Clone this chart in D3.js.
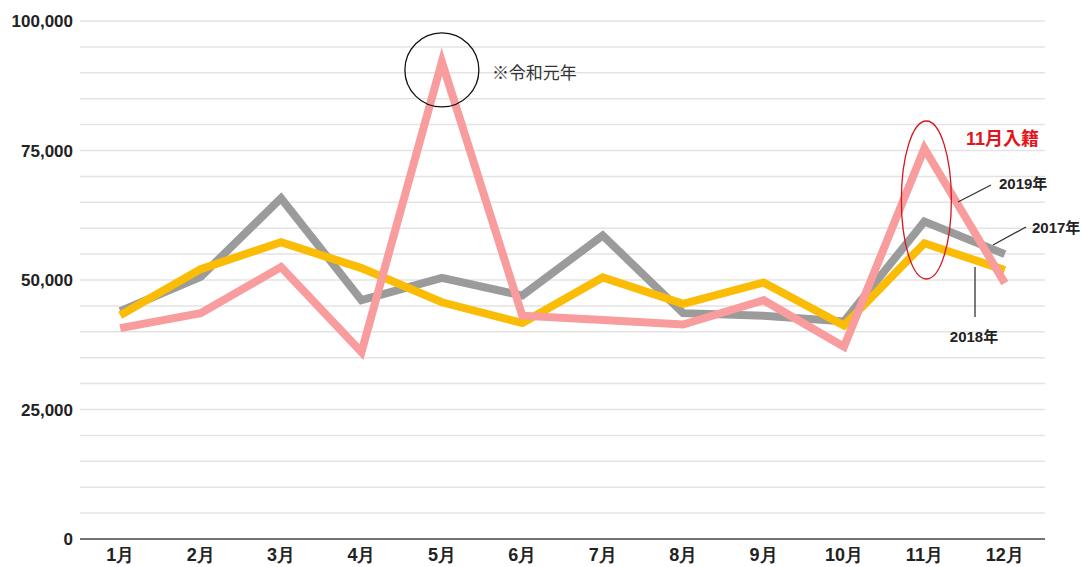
<!DOCTYPE html>
<html>
<head>
<meta charset="utf-8">
<script src="https://cdn.jsdelivr.net/npm/d3@7"></script>
<style>
  body { margin: 0; background: #fff; }
  svg { display: block; font-family: "Liberation Sans", Arial, "Noto Sans CJK JP", sans-serif; }
  .grid line { stroke: #e3e3e3; stroke-width: 1.5; }
  .axis text { font-weight: bold; fill: #222; }
</style>
</head>
<body>
<script>
// monthly values
var months = ["1月", "2月", "3月", "4月", "5月", "6月", "7月", "8月", "9月", "10月", "11月", "12月"];
var y2017 = [44000, 50600, 65800, 46100, 50400, 47000, 58600, 43600, 43100, 42000, 61300, 55000];
var y2018 = [43200, 52100, 57300, 52300, 45700, 41700, 50500, 45400, 49500, 41200, 57100, 51900];
var y2019 = [40700, 43600, 52500, 36100, 92100, 43100, 42300, 41400, 46100, 37100, 75400, 49400];
var yTicks = [0, 25000, 50000, 75000, 100000];

var series = [
  {name: "2017年", values: y2017, color: "#9b9b9b"},
  {name: "2018年", values: y2018, color: "#fbbc05"},
  {name: "2019年", values: y2019, color: "#f89c9e"}
];

var W = 1081, H = 567;
var margin = {top: 21, right: 36, bottom: 28, left: 80};

var svg = d3.select("body").append("svg")
    .attr("width", W)
    .attr("height", H);

var x = d3.scaleBand()
    .domain(months)
    .range([margin.left, W - margin.right]);

var y = d3.scaleLinear()
    .domain([0, 100000])
    .range([H - margin.bottom, margin.top]);

// minor gridlines every 5,000
svg.append("g")
    .attr("class", "grid")
    .selectAll("line")
    .data(d3.range(5000, 100001, 5000))
    .join("line")
    .attr("x1", margin.left)
    .attr("x2", W - margin.right)
    .attr("y1", function(d) { return y(d); })
    .attr("y2", function(d) { return y(d); });

// baseline
svg.append("line")
    .attr("x1", margin.left)
    .attr("x2", W - margin.right)
    .attr("y1", y(0))
    .attr("y2", y(0))
    .attr("stroke", "#444")
    .attr("stroke-width", 1.3);

// y axis
var yAxis = svg.append("g")
    .attr("class", "axis")
    .attr("transform", "translate(" + (margin.left - 4) + ",0)")
    .call(d3.axisLeft(y).tickValues(yTicks).tickSize(0).tickFormat(d3.format(",")));
yAxis.select(".domain").remove();
yAxis.selectAll("text").attr("font-size", 17).attr("dy", "0.35em");

// x axis
var xAxis = svg.append("g")
    .attr("class", "axis")
    .attr("transform", "translate(0," + y(0) + ")")
    .call(d3.axisBottom(x).tickSize(0));
xAxis.select(".domain").remove();
xAxis.selectAll("text").attr("font-size", 18).attr("dy", "1.05em");

// lines
var line = d3.line()
    .x(function(d, i) { return x(months[i]) + x.bandwidth() / 2; })
    .y(function(d) { return y(d); });

svg.append("g")
    .selectAll("path")
    .data(series)
    .join("path")
    .attr("fill", "none")
    .attr("stroke", function(d) { return d.color; })
    .attr("stroke-width", 8)
    .attr("stroke-linejoin", "miter")
    .attr("d", function(d) { return line(d.values); });

function px(m) { return x(m) + x.bandwidth() / 2; }

// 令和元年 note on the May peak
svg.append("circle")
    .attr("cx", px("5月"))
    .attr("cy", y(y2019[4]) + 8)
    .attr("r", 37)
    .attr("fill", "none")
    .attr("stroke", "#111")
    .attr("stroke-width", 1.3);

svg.append("text")
    .attr("x", px("5月") + 50)
    .attr("y", y(y2019[4]) + 17)
    .attr("font-size", 17)
    .attr("fill", "#333")
    .text("※令和元年");

// November marriage note
svg.append("ellipse")
    .attr("cx", px("11月") + 2)
    .attr("cy", 200)
    .attr("rx", 25)
    .attr("ry", 79)
    .attr("fill", "none")
    .attr("stroke", "#d8141c")
    .attr("stroke-width", 1.3);

svg.append("text")
    .attr("x", 966)
    .attr("y", 145)
    .attr("font-size", 18)
    .attr("font-weight", "bold")
    .attr("fill", "#e5141c")
    .text("11月入籍");

// series labels with leaders
var leaders = [
  {x1: 958, y1: 202, x2: 991, y2: 185, tx: 999, ty: 189, anchor: "start", text: "2019年"},
  {x1: 993, y1: 245, x2: 1026, y2: 227, tx: 1032, ty: 233, anchor: "start", text: "2017年"},
  {x1: 975, y1: 267, x2: 975, y2: 317, tx: 974, ty: 342, anchor: "middle", text: "2018年"}
];

var lab = svg.append("g");
lab.selectAll("line")
    .data(leaders)
    .join("line")
    .attr("x1", function(d) { return d.x1; })
    .attr("y1", function(d) { return d.y1; })
    .attr("x2", function(d) { return d.x2; })
    .attr("y2", function(d) { return d.y2; })
    .attr("stroke", "#333")
    .attr("stroke-width", 1.3);

lab.selectAll("text")
    .data(leaders)
    .join("text")
    .attr("x", function(d) { return d.tx; })
    .attr("y", function(d) { return d.ty; })
    .attr("text-anchor", function(d) { return d.anchor; })
    .attr("font-size", 15)
    .attr("font-weight", "bold")
    .attr("fill", "#222")
    .text(function(d) { return d.text; });
</script>
</body>
</html>
